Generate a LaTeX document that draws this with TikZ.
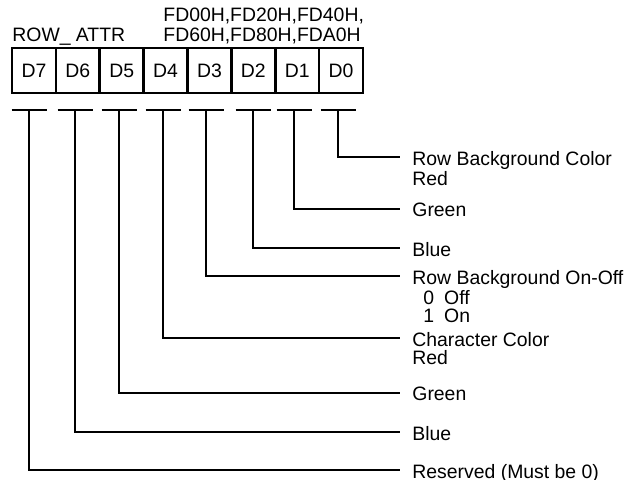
\documentclass[tikz,border=0pt]{standalone}
\usepackage{fontspec}
\setmainfont{Liberation Sans}
\usetikzlibrary{positioning}

\begin{document}
\begin{tikzpicture}[x=0.5pt, y=-0.5pt,
    cell/.style={draw, line width=1.25pt, minimum width=21.94pt, minimum height=22.5pt, inner sep=0pt},
    wire/.style={line width=1.25pt},
    lbl/.style={anchor=north west, align=left, inner sep=0pt},
    every node/.style={font=\fontsize{9.7}{9}\selectfont}]
    \useasboundingbox (0,0) rectangle (641,480);

    % register cells, D7 on the left
    \foreach \b/\x in {7/33.9, 6/77.8, 5/121.7, 4/165.6, 3/209.4, 2/253.3, 1/297.2, 0/341.1}
        \node[cell] (d\b) at (\x, 70.5) {D\b};

    \node[anchor=north west, inner sep=0pt] (name) at (12, 28) {ROW\_ ATTR};
    \node[lbl, font=\fontsize{9.7}{10}\selectfont] (addr) at (163, 7.5) {FD00H,FD20H,FD40H,\\FD60H,FD80H,FDA0H};

    % T tops under each bit
    \coordinate (t7) at (29, 110);
    \coordinate (t6) at (75, 110);
    \coordinate (t5) at (119, 110);
    \coordinate (t4) at (163, 110);
    \coordinate (t3) at (206, 110);
    \coordinate (t2) at (253, 110);
    \coordinate (t1) at (294, 110);
    \coordinate (t0) at (338, 110);

    % line ends
    \coordinate (e0) at (400, 157);
    \coordinate (e1) at (400, 209);
    \coordinate (e2) at (400, 248);
    \coordinate (e3) at (400, 276);
    \coordinate (e4) at (400, 338);
    \coordinate (e5) at (400, 393);
    \coordinate (e6) at (400, 432);
    \coordinate (e7) at (400, 470);

    \node[lbl] (l0) at (412, 151) {Row Background Color\\Red};
    \node[lbl] (l1) at (412, 203) {Green};
    \node[lbl] (l2) at (412, 242) {Blue};
    \node[lbl] (l3) at (412, 270) {Row Background On-Off\\\hspace*{5.5pt}0\hspace{5pt}Off\\\hspace*{5.5pt}1\hspace{5pt}On};
    \node[lbl] (l4) at (412, 332) {Character Color\\Red};
    \node[lbl] (l5) at (412, 387) {Green};
    \node[lbl] (l6) at (412, 426) {Blue};
    \node[lbl] (l7) at (412, 464) {Reserved (Must be 0)};

    \foreach \b in {0,...,7} {
        \draw[wire] ([xshift=-8.75pt]t\b) -- ([xshift=8.75pt]t\b);
        \draw[wire] (t\b) |- (e\b);
    }
\end{tikzpicture}
\end{document}
